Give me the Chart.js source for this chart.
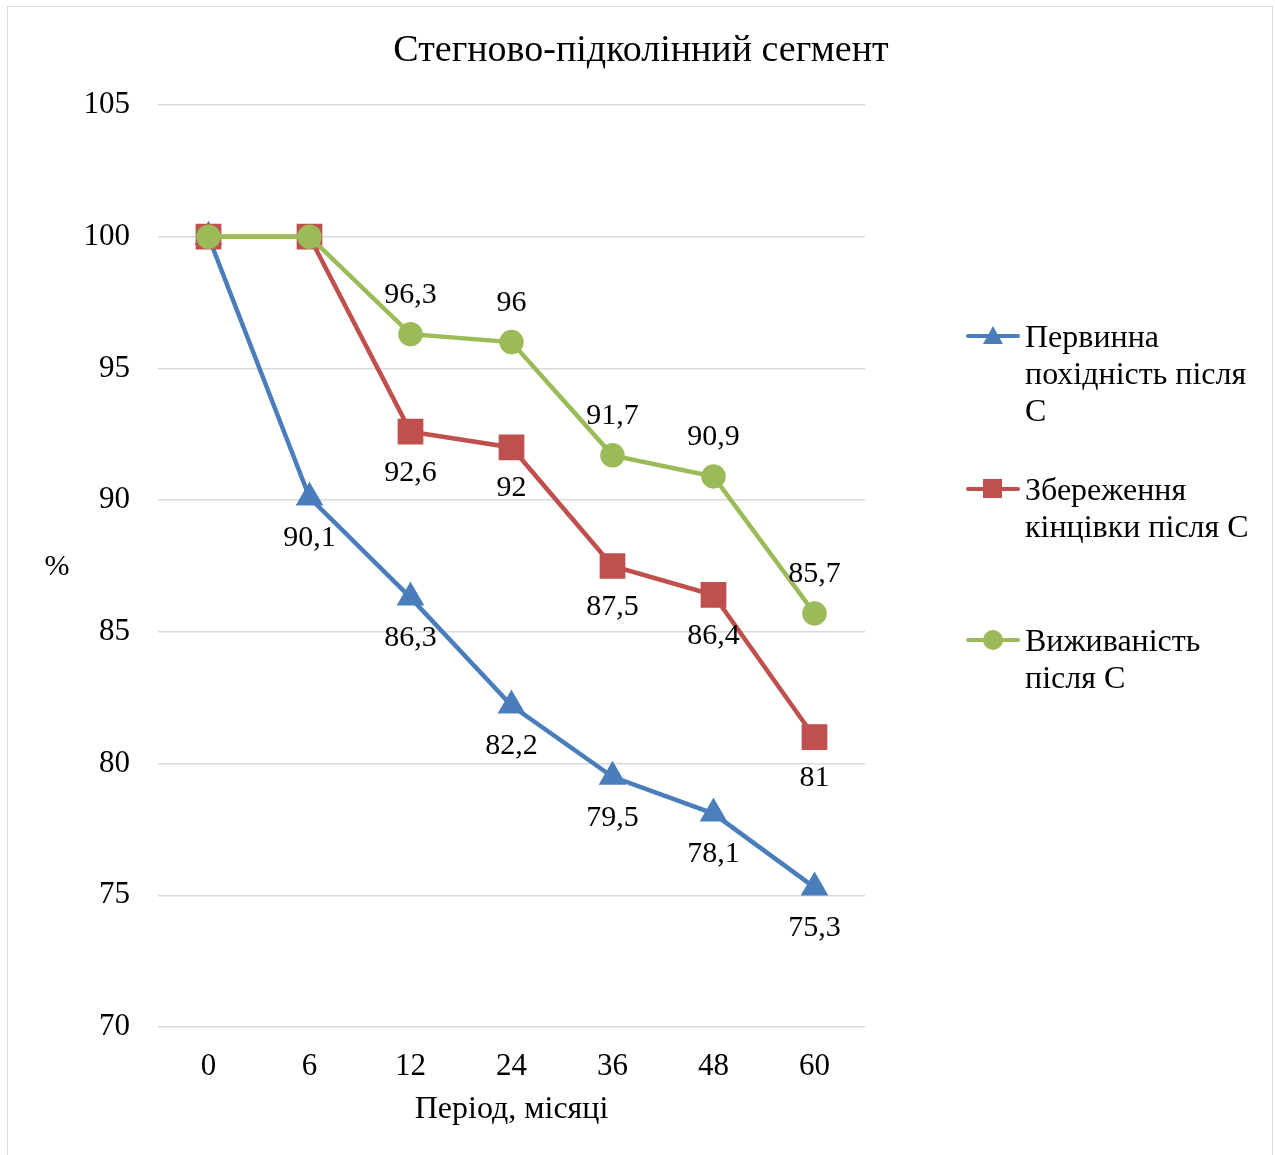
<!DOCTYPE html>
<html><head><meta charset="utf-8">
<script src="https://cdn.jsdelivr.net/npm/chart.js@4.4.0/dist/chart.umd.min.js"></script>
<style>
html,body{margin:0;padding:0;background:#fff;overflow:hidden;}
#wrap{position:relative;width:1275px;height:1155px;}
#frame{position:absolute;left:7px;top:6px;width:1266px;height:1160px;border:1px solid #D9D9D9;box-sizing:border-box;}
canvas{position:absolute;left:0;top:0;}
#legend{position:absolute;left:0;top:0;font-family:"Liberation Serif","Times New Roman",serif;font-size:32px;line-height:37px;color:#000;}
.item{position:absolute;left:966px;width:305px;}
.mk{position:absolute;left:0;width:54px;height:18px;top:9px;}
.ln{position:absolute;left:0;top:7px;width:54px;height:4px;border-radius:2px;}
.txt{position:absolute;left:59px;top:0;width:245px;white-space:pre-line;}
</style></head>
<body><div id="wrap"><div id="frame"></div><canvas id="c" width="1275" height="1155"></canvas><div id="legend"></div></div>
<script>
const chartTitle = "Стегново-підколінний сегмент";
const xTitle = "Період, місяці";
const yTitle = "%";
const categories = ["0","6","12","24","36","48","60"];
const seriesNames = ["Первинна\nпохідність після\nС","Збереження\nкінцівки після С","Виживаність\nпісля С"];
const primaryPatency = [100, 90.1, 86.3, 82.2, 79.5, 78.1, 75.3];
const limbSalvage = [100, 100, 92.6, 92, 87.5, 86.4, 81];
const survival = [100, 100, 96.3, 96, 91.7, 90.9, 85.7];
const yTicks = {min:70, max:105, step:5};

const colors = ["#4A7EBB","#C0504D","#9BBB59"];
const FONT = '"Liberation Serif","Times New Roman",serif';

const labelPlugin = {
  id:'dlabels',
  afterDatasetsDraw(chart){
    const ctx = chart.ctx;
    ctx.save();
    ctx.font = '30px ' + FONT;
    ctx.fillStyle = '#000';
    ctx.textAlign = 'center';
    ctx.textBaseline = 'middle';
    chart.data.datasets.forEach((ds, di) => {
      ds.data.forEach((v, i) => {
        if (v === 100) return;
        const x = chart.scales.x.getPixelForValue(i);
        const y = chart.scales.y.getPixelForValue(v);
        const dy = ds.labelPos === 'above' ? -39 : 41;
        ctx.fillText(String(v).replace('.', ','), x, y + dy);
      });
    });
    const ca = chart.chartArea;
    ctx.font = '30px ' + FONT;
    ctx.fillText(yTitle, 57, (ca.top + ca.bottom)/2 + 1);
    ctx.font = '38px ' + FONT;
    ctx.fillText(chartTitle, 641, 51);
    ctx.restore();
  }
};

const chart = new Chart(document.getElementById('c'), {
  type:'line',
  data:{
    labels: categories,
    datasets:[
      {label:seriesNames[0], data:primaryPatency, borderColor:colors[0], backgroundColor:colors[0], pointStyle:'triangle', pointRadius:11.5, borderWidth:4.5, order:2, labelPos:'below'},
      {label:seriesNames[1], data:limbSalvage, borderColor:colors[1], backgroundColor:colors[1], pointStyle:'rect', pointRadius:15, borderWidth:4.5, order:1, labelPos:'below'},
      {label:seriesNames[2], data:survival, borderColor:colors[2], backgroundColor:colors[2], pointStyle:'circle', pointRadius:10, borderWidth:4.5, order:0, labelPos:'above'}
    ]
  },
  options:{
    responsive:false, animation:false,
    layout:{padding:{left:0, right:410, top:105, bottom:0}},
    plugins:{
      legend:{display:false}, tooltip:{enabled:false}, title:{display:false}
    },
    elements:{line:{tension:0}, point:{borderWidth:0, hoverRadius:0}},
    scales:{
      x:{
        offset:true,
        grid:{display:false, drawTicks:false}, border:{display:false},
        ticks:{color:'#000', font:{family:FONT, size:31}, padding:21},
        title:{display:true, text:xTitle, color:'#000', font:{family:FONT, size:32}, padding:{top:0,bottom:26}},
        afterFit(s){ s.height = 128; }
      },
      y:{
        min:yTicks.min, max:yTicks.max,
        grid:{color:'#D9D9D9', lineWidth:1.5, drawTicks:false}, border:{display:false},
        ticks:{stepSize:yTicks.step, color:'#000', font:{family:FONT, size:31}, padding:28},
        afterFit(s){ s.width = 158; }
      }
    }
  },
  plugins:[labelPlugin]
});

// HTML legend
const legendTops = [318, 471, 622];
const leg = document.getElementById('legend');
chart.data.datasets.forEach((ds, i) => {
  const it = document.createElement('div');
  it.className = 'item';
  it.style.top = legendTops[i] + 'px';
  const mk = document.createElement('div'); mk.className = 'mk';
  const ln = document.createElement('div'); ln.className = 'ln'; ln.style.background = colors[i];
  mk.appendChild(ln);
  const sym = document.createElement('div');
  sym.style.position = 'absolute';
  if (i === 0) {
    sym.style.left = '17px'; sym.style.top = '-1px'; sym.style.width = '0'; sym.style.height = '0';
    sym.style.borderLeft = '10px solid transparent'; sym.style.borderRight = '10px solid transparent';
    sym.style.borderBottom = '18px solid ' + colors[i];
  } else if (i === 1) {
    sym.style.left = '17px'; sym.style.top = '-1px'; sym.style.width = '19px'; sym.style.height = '19px'; sym.style.background = colors[i];
  } else {
    sym.style.left = '17px'; sym.style.top = '-1px'; sym.style.width = '20px'; sym.style.height = '20px'; sym.style.borderRadius = '50%'; sym.style.background = colors[i];
  }
  mk.appendChild(sym);
  const tx = document.createElement('div'); tx.className = 'txt'; tx.textContent = ds.label;
  it.appendChild(mk); it.appendChild(tx);
  leg.appendChild(it);
});
</script></body></html>
